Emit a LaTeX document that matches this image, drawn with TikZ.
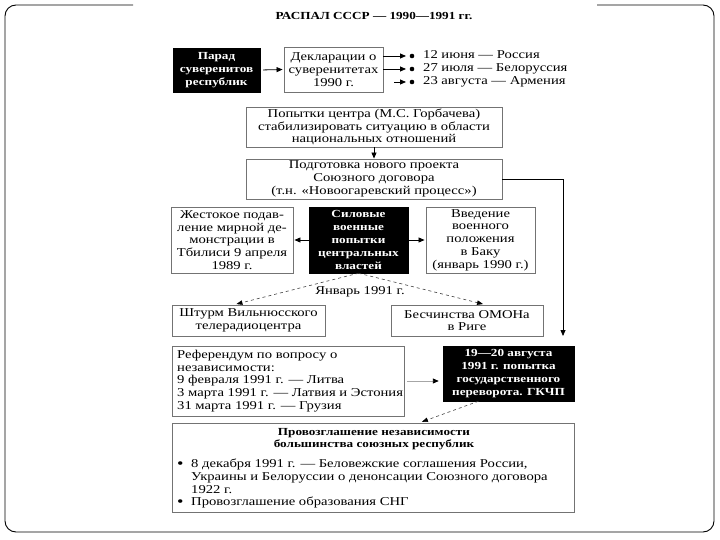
\documentclass[tikz,border=0pt]{standalone}
\usepackage{fontspec}
\setmainfont[FakeStretch=1.22]{Liberation Serif}
\usetikzlibrary{arrows.meta}
\newcommand{\bigbul}[1]{\makebox[#1][l]{\raisebox{-0.05ex}[0pt][0pt]{\fontsize{15}{12}\selectfont •}}}
\begin{document}
\begin{tikzpicture}[x=1pt,y=-1pt,
  txt/.style={font=\fontsize{12}{12.7}\selectfont},
  box/.style={txt,draw=black!55,line width=0.9pt,fill=white,inner sep=0pt,align=center},
  blackbox/.style={draw=black,fill=black,text=white,inner sep=0pt,align=center,font=\bfseries\fontsize{10.8}{13}\selectfont},
  arr/.style={-{Triangle[length=6pt,width=5pt]},line width=0.8pt},
  grayarr/.style={draw=black!35,line width=0.9pt,-{Triangle[length=6pt,width=5pt,fill=black,color=black]}},
  dasharr/.style={dashed,draw=black!75,line width=0.6pt,-{Triangle[length=6pt,width=4.5pt,fill=black,color=black]}},
  dot/.style={fill=black}]
\useasboundingbox (0,0) rectangle (720,540);
% frame
\draw[line width=0.9pt,rounded corners=11pt] (133,5) -- (5,5) -- (5,532) -- (714,532) -- (714,5) -- (597,5);
% title
\node[font=\bfseries\fontsize{10.8}{13}\selectfont] (title) at (374,16) {РАСПАЛ СССР — 1990—1991 гг.};
% row 1
\node[blackbox,minimum width=87pt,minimum height=44pt] (parad) at (216.5,70) {Парад\\суверенитов\\республик};
\node[box,minimum width=99pt,minimum height=45pt] (decl) at (333.5,69.5) {Декларации о\\суверенитетах\\1990 г.};
\node[font=\fontsize{12}{13}\selectfont,align=left,anchor=west,inner sep=0pt] (items) at (423,69) {12 июня — Россия\\27 июля — Белоруссия\\23 августа — Армения};
\coordinate (a1) at (406,56);
\coordinate (a2) at (406,69);
\coordinate (a3) at (406,82);
\coordinate (a3s) at (394,82);
\fill[dot] (412,56) circle (2.3pt);
\fill[dot] (412,69) circle (2.3pt);
\fill[dot] (412,82) circle (2.3pt);
\draw[arr,shorten <=3pt,shorten >=1pt] (parad.east) -- (decl.west);
\draw[arr] (decl.east |- a1) -- (a1);
\draw[arr] (decl.east |- a2) -- (a2);
\draw[arr] (a3s) -- (a3);
% center
\node[box,minimum width=256pt,minimum height=40pt] (pop) at (374,127) {Попытки центра (М.С. Горбачева)\\стабилизировать ситуацию в области\\национальных отношений};
\node[box,minimum width=256pt,minimum height=40pt] (podg) at (374,179) {Подготовка нового проекта\\Союзного договора\\(т.н. «Новоогаревский процесс»)};
\draw[arr] (pop.south) -- (podg.north);
\coordinate (gkin) at (563,336);
\draw[arr] (podg.east) -| (gkin);
% force row
\node[box,minimum width=122pt,minimum height=66pt] (zhest) at (232,240) {Жестокое подав-\\ление мирной де-\\монстрации в\\Тбилиси 9 апреля\\1989 г.};
\node[blackbox,minimum width=99pt,minimum height=66pt] (silov) at (358.5,240) {Силовые\\военные\\попытки\\центральных\\властей};
\node[box,minimum width=109pt,minimum height=66pt] (vved) at (480.5,240) {Введение\\военного\\положения\\в Баку\\(январь 1990 г.)};
\draw[arr,shorten >=1pt] (silov.west) -- (zhest.east);
\draw[arr,shorten >=1pt] (silov.east) -- (vved.west);
% January 1991
\node[box,minimum width=153pt,minimum height=31pt] (shturm) at (248.5,320.5) {Штурм Вильнюсского\\телерадиоцентра};
\node[box,minimum width=152pt,minimum height=31pt] (besch) at (467,320.5) {Бесчинства ОМОНа\\в Риге};
\node[txt,inner sep=0pt] (jan) at (360,292) {Январь 1991 г.};
\draw[dasharr,shorten >=2pt] (silov.south) -- ([xshift=-14pt]shturm.north);
\draw[dasharr,shorten >=2pt] (silov.south) -- ([xshift=18pt]besch.north);
% referendum and coup
\node[box,minimum width=232pt,minimum height=70pt] (refer) at (288,381) {};
\node[txt,align=left,anchor=west,inner sep=0pt] (refertext) at (177,381) {Референдум по вопросу о\\независимости:\\9 февраля 1991 г. — Литва\\3 марта 1991 г. — Латвия и Эстония\\31 марта 1991 г. — Грузия};
\node[blackbox,minimum width=131pt,minimum height=55pt] (gkchp) at (508.5,373.5) {19—20 августа\\1991 г. попытка\\государственного\\переворота. ГКЧП};
\draw[grayarr,shorten <=3pt,shorten >=4pt] (refer.east) -- (refer.east -| gkchp.west);
% final
\node[box,minimum width=402pt,minimum height=89pt] (final) at (373,467.5) {};
\node[font=\bfseries\fontsize{10.8}{12.7}\selectfont,align=center,inner sep=0pt] (ftitle) at (374,439) {Провозглашение независимости\\большинства союзных республик};
\node[txt,align=left,anchor=north west,inner sep=0pt] (flist) at (177,459) {\bigbul{14pt}8 декабря 1991 г. — Беловежские соглашения России,\\\hspace*{14pt}Украины и Белоруссии о денонсации Союзного договора\\\hspace*{14pt}1922 г.\\\bigbul{14pt}Провозглашение образования СНГ};
\draw[dasharr,shorten >=2pt] ([xshift=-30pt]gkchp.south) -- ([xshift=47pt]final.north);
\end{tikzpicture}
\end{document}
